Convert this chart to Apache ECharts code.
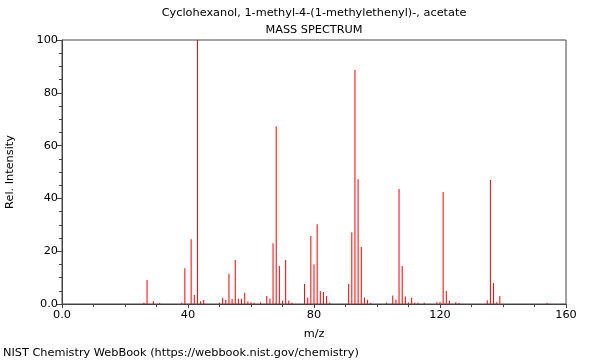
<!DOCTYPE html>
<html>
<head>
<meta charset="utf-8">
<script src="https://cdn.jsdelivr.net/npm/echarts@6/dist/echarts.min.js"></script>
<style>html,body{margin:0;padding:0;background:#fff}#c{width:600px;height:360px}</style>
</head>
<body>
<div id="c"></div>
<script>
var mz = [26,27,29,31,38,39,41,42,43,44,45,50,51,52,53,54,55,56,57,58,59,60,61,63,65,66,67,68,69,70,71,72,73,77,78,79,80,81,82,83,84,85,91,92,93,94,95,96,97,98,103,105,106,107,108,109,110,111,112,113,115,119,120,121,122,123,125,126,135,136,137,138,139,154];
var intensity = [0.5,9.1,1,0.4,0.5,13.5,24.5,3.4,100,1,1.5,0.5,2.4,1.5,11.5,1.9,16.7,2,2,4.3,0.9,0.7,0.5,0.7,3,2,23,67.2,14.4,1.2,16.7,1.3,0.5,7.6,2.5,25.8,15,30.2,4.9,4.5,3,0.5,7.6,27.1,88.6,47.3,21.6,2.5,1.6,0.4,0.5,3.2,1.6,43.6,14.4,2.8,0.6,2.4,0.5,0.5,0.5,0.7,0.8,42.4,4.9,1.2,0.7,0.4,1.4,47,8,0.7,3,0.4];
var titleText = "Cyclohexanol, 1-methyl-4-(1-methylethenyl)-, acetate";
var subtitleText = "MASS SPECTRUM";
var footerText = "NIST Chemistry WebBook (https://webbook.nist.gov/chemistry)";

var data = mz.map(function(m, i){ return [m, intensity[i]]; });
var font = "DejaVu Sans";
var fs = 11.3;
var chart = echarts.init(document.getElementById('c'), null, {renderer:'canvas'});
chart.setOption({
  animation:false,
  backgroundColor:'#fff',
  textStyle:{fontFamily:font},
  graphic:[
    {type:'text', x:314, y:13, style:{text:titleText, fill:'#000', font:fs+'px "'+font+'"', textAlign:'center', textVerticalAlign:'middle'}},
    {type:'text', x:314, y:30, style:{text:subtitleText, fill:'#000', font:fs+'px "'+font+'"', textAlign:'center', textVerticalAlign:'middle'}},
    {type:'text', x:3, y:353, style:{text:footerText, fill:'#000', font:fs+'px "'+font+'"', textAlign:'left', textVerticalAlign:'middle'}}
  ],
  grid:{left:62, right:34, top:40, bottom:56, show:true, borderColor:'#444', borderWidth:1, backgroundColor:'transparent', containLabel:false, outerBoundsMode:'none'},
  xAxis:{
    type:'value', min:0, max:160, interval:40,
    name:'m/z', nameLocation:'middle', nameGap:25,
    nameTextStyle:{fontSize:fs, color:'#000', fontFamily:font},
    axisLine:{show:true, onZero:false, lineStyle:{color:'#444'}},
    axisTick:{show:true, length:4, lineStyle:{color:'#444'}},
    minorTick:{show:true, splitNumber:4, length:3, lineStyle:{color:'#444'}},
    splitLine:{show:false},
    axisLabel:{fontSize:fs, color:'#000', margin:6, fontFamily:font, formatter:function(v){return v===0?'0.0':String(v);}}
  },
  yAxis:{
    type:'value', min:0, max:100, interval:20,
    name:'Rel. Intensity', nameLocation:'middle', nameGap:46, nameRotate:90,
    nameTextStyle:{fontSize:fs, color:'#000', fontFamily:font},
    axisLine:{show:true, lineStyle:{color:'#444'}},
    axisTick:{show:true, length:5, lineStyle:{color:'#444'}},
    minorTick:{show:true, splitNumber:4, length:3, lineStyle:{color:'#444'}},
    splitLine:{show:false},
    axisLabel:{fontSize:fs, color:'#000', margin:4, fontFamily:font, formatter:function(v){return v===0?'0.0':String(v);}}
  },
  series:[{
    type:'bar', data:data, barWidth:1, itemStyle:{color:'#ff0000'}, silent:true
  }]
});
</script>
</body>
</html>
